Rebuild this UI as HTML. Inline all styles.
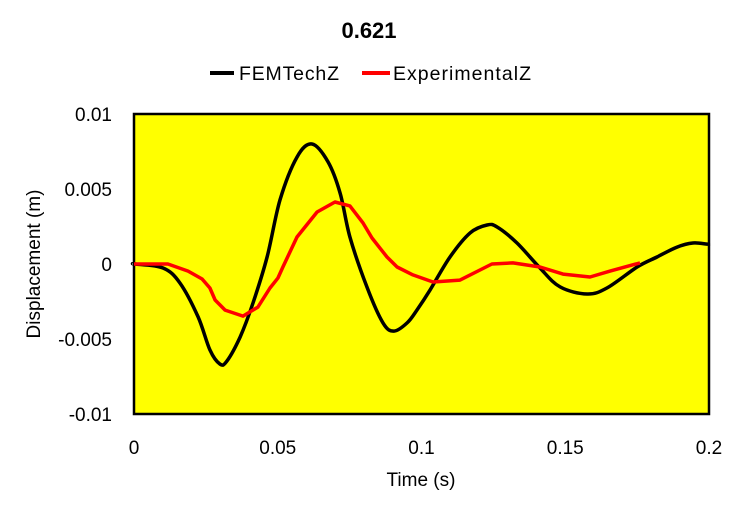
<!DOCTYPE html>
<html><head><meta charset="utf-8"><style>
html,body{margin:0;padding:0;background:#fff;}
svg{display:block;font-family:"Liberation Sans",Calibri,sans-serif;}
</style></head><body>
<svg id="chart" width="739" height="510" viewBox="0 0 739 510">
<text x="369" y="38" text-anchor="middle" font-size="22" font-weight="bold" fill="#000">0.621</text>
<g>
<g>
<line x1="210" y1="73" x2="234" y2="73" stroke="#000" stroke-width="4"/>
<text x="239" y="80" font-size="19.5" fill="#000" textLength="100">FEMTechZ</text></g>
<g>
<line x1="362" y1="73" x2="390" y2="73" stroke="#f00" stroke-width="4"/>
<text x="393" y="80" font-size="19.5" fill="#000" textLength="138">ExperimentalZ</text></g>
</g>
<rect x="134" y="114" width="575" height="300" fill="#ffff00" stroke="#000" stroke-width="2.5"/>
<g id="yticks"></g>
<g id="xticks"></g>
<g id="series"></g>
<text transform="translate(40,264) rotate(-90)" text-anchor="middle" font-size="19" fill="#000">Displacement (m)</text>
<text x="421" y="486" text-anchor="middle" font-size="19" fill="#000">Time (s)</text>
</svg>
<script>
const yTickVals=[0.01,0.005,0,-0.005,-0.01];
const yTickLabels=["0.01","0.005","0","-0.005","-0.01"];
const xTickVals=[0,0.05,0.1,0.15,0.2];
const xTickLabels=["0","0.05","0.1","0.15","0.2"];
const femT=[0,0.0003,0.0101,0.016,0.0223,0.0264,0.0299,0.0323,0.0369,0.0414,0.0463,0.0508,0.0567,0.0619,0.0675,0.0717,0.0751,0.081,0.0866,0.0904,0.095,0.0984,0.103,0.1099,0.1169,0.1228,0.1263,0.1332,0.1412,0.1482,0.1576,0.1645,0.175,0.1819,0.1889,0.1944,0.1993,0.2];
const femV=[0,0,-0.00027,-0.00127,-0.00353,-0.00573,-0.00667,-0.00647,-0.00487,-0.0026,0.00047,0.00427,0.00713,0.008,0.0068,0.00473,0.0018,-0.00153,-0.00393,-0.00447,-0.00393,-0.00307,-0.00173,0.00047,0.00207,0.0026,0.00247,0.0014,-0.00027,-0.00153,-0.002,-0.0016,-0.0002,0.00047,0.00113,0.0014,0.00133,0.00133];
const expT=[0,0.0118,0.0188,0.0237,0.0264,0.0282,0.0317,0.0379,0.0431,0.0473,0.0501,0.0518,0.0567,0.0637,0.0699,0.0751,0.0797,0.0828,0.088,0.0915,0.097,0.104,0.1134,0.1245,0.1318,0.1412,0.1492,0.1586,0.1656,0.176];
const expV=[0,0,-0.00047,-0.001,-0.0016,-0.0024,-0.00307,-0.00347,-0.00287,-0.0016,-0.00093,-0.0002,0.0018,0.00347,0.00413,0.00387,0.00273,0.00173,0.00047,-0.0002,-0.00073,-0.0012,-0.00107,0,0.00007,-0.0002,-0.00067,-0.00087,-0.00047,0.00007];
const X0=134,X1=709,Y0=414,Y1=114,xMin=0,xMax=0.2,yMin=-0.01,yMax=0.01;
const sx=t=>X0+(t-xMin)/(xMax-xMin)*(X1-X0);
const sy=v=>Y0-(v-yMin)/(yMax-yMin)*(Y0-Y1);
const NS="http://www.w3.org/2000/svg";
const yg=document.getElementById('yticks');
yTickVals.forEach((v,i)=>{
  const t=document.createElementNS(NS,'text');
  t.setAttribute('x',112);t.setAttribute('y',sy(v)+7);
  t.setAttribute('text-anchor','end');t.setAttribute('font-size','19');
  t.textContent=yTickLabels[i];
  
  
  yg.appendChild(t);
});
const xg=document.getElementById('xticks');
xTickVals.forEach((v,i)=>{
  const t=document.createElementNS(NS,'text');
  t.setAttribute('x',sx(v));t.setAttribute('y',454);
  t.setAttribute('text-anchor','middle');t.setAttribute('font-size','19');
  t.textContent=xTickLabels[i];
  
  
  xg.appendChild(t);
});
const sg=document.getElementById('series');
function line(ts,vs,color,name,smooth){
  const pts=ts.map((t,i)=>[sx(t),sy(vs[i])]);
  let d='M'+pts[0][0].toFixed(1)+','+pts[0][1].toFixed(1);
  for(let i=0;i<pts.length-1;i++){
    const p0=pts[Math.max(0,i-1)],p1=pts[i],p2=pts[i+1],p3=pts[Math.min(pts.length-1,i+2)];
    if(smooth){
      const c1=[p1[0]+(p2[0]-p0[0])/6,p1[1]+(p2[1]-p0[1])/6];
      const c2=[p2[0]-(p3[0]-p1[0])/6,p2[1]-(p3[1]-p1[1])/6];
      d+=' C'+c1[0].toFixed(1)+','+c1[1].toFixed(1)+' '+c2[0].toFixed(1)+','+c2[1].toFixed(1)+' '+p2[0].toFixed(1)+','+p2[1].toFixed(1);
    } else d+=' L'+p2[0].toFixed(1)+','+p2[1].toFixed(1);
  }
  const p=document.createElementNS(NS,'path');
  p.setAttribute('d',d);
  p.setAttribute('fill','none');p.setAttribute('stroke',color);
  p.setAttribute('stroke-width','3.5');p.setAttribute('stroke-linejoin','round');
  
  
  sg.appendChild(p);
}
line(femT,femV,'#000','femtechz-line',true);
line(expT,expV,'#f00','experimentalz-line',false);
</script>
</body></html>
